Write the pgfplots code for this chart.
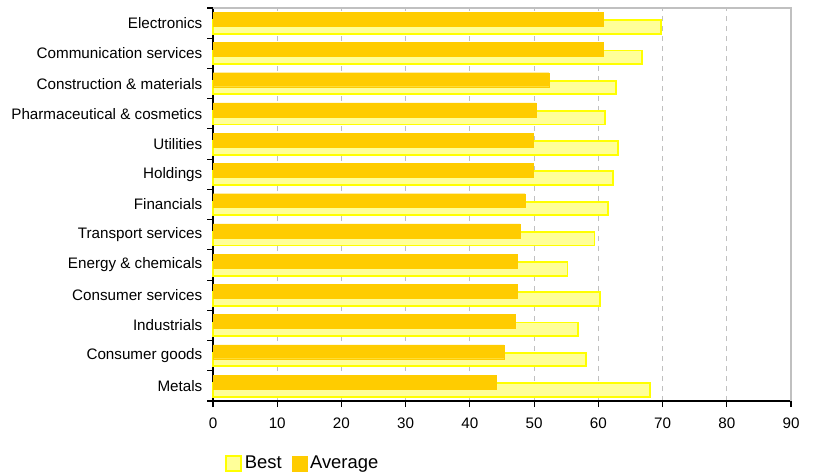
\documentclass[border=0pt]{standalone}
\usepackage{fontspec}
\setmainfont{Liberation Sans}
\usepackage{pgfplots}
\pgfplotsset{compat=1.18}
\definecolor{avg}{HTML}{FFCC00}
\definecolor{bestfill}{HTML}{FFFF99}
\definecolor{bestline}{HTML}{FFFF00}
\definecolor{gridc}{HTML}{C0C0C0}
\begin{document}
\begin{tikzpicture}
\begin{axis}[
  scale only axis, width=433.5pt, height=294.75pt,
  xmin=0, xmax=90, ymin=-0.5, ymax=12.5,
  xtick={0,10,...,90},
  ytick={0,...,12},
  yticklabels={Metals,Consumer goods,Industrials,Consumer services,Energy \& chemicals,Transport services,Financials,Holdings,Utilities,Pharmaceutical \& cosmetics,Construction \& materials,Communication services,Electronics},
  minor ytick={-0.5,0.5,...,12.5},
  axis x line*=bottom, axis y line*=left,
  axis line style={black, line width=0.8pt},
  tick align=outside,
  major tick length=4.5pt, minor tick length=4.5pt,
  major y tick style={draw=none},
  minor y tick style={black, line width=0.8pt},
  major x tick style={black, line width=0.8pt},
  xmajorgrids,
  major x grid style={gridc, dash pattern=on 3.75pt off 3.75pt, line width=0.75pt},
  /pgf/number format/assume math mode=true,
  ticklabel style={font=\fontsize{11.4pt}{13.5pt}\selectfont},
  xticklabel style={yshift=-4.5pt},
  legend style={at={(axis description cs:0.021,-0.158)}, anchor=west, draw=none, fill=none,
    legend columns=2, font=\fontsize{13.8pt}{16pt}\selectfont,
    /tikz/every even column/.append style={column sep=6pt},
    legend cell align=left, inner sep=0pt},
  legend image code/.code={\draw[#1] (0pt,-5.6pt) rectangle (11.2pt,5.6pt);},
  clip=false,
]
\addplot[xbar, bar width=0.45, bar shift=-0.13, fill=bestfill, draw=bestline, line width=1.4pt]
  coordinates {(68.1,0) (58.1,1) (56.9,2) (60.2,3) (55.2,4) (59.4,5) (61.5,6) (62.3,7) (63.1,8) (61.0,9) (62.7,10) (66.8,11) (69.7,12)};
\addlegendentry{Best}
\addplot[xbar, bar width=0.46, bar shift=0.13, fill=avg, draw=avg, line width=0.1pt]
  coordinates {(44.1,0) (45.3,1) (47.0,2) (47.3,3) (47.3,4) (47.8,5) (48.6,6) (49.8,7) (49.8,8) (50.3,9) (52.3,10) (60.7,11) (60.7,12)};
\addlegendentry{Average}
\draw[gridc, line width=1.5pt] (rel axis cs:0,1) -- (rel axis cs:1,1) -- (rel axis cs:1,0);
\coordinate (sw) at (rel axis cs:0,0);
\coordinate (ne) at (rel axis cs:1,1);
\end{axis}
\pgfresetboundingbox
\path[use as bounding box] ([xshift=-159.75pt,yshift=-55.5pt]sw) rectangle ([xshift=17.25pt,yshift=6pt]ne);
\end{tikzpicture}
\end{document}
